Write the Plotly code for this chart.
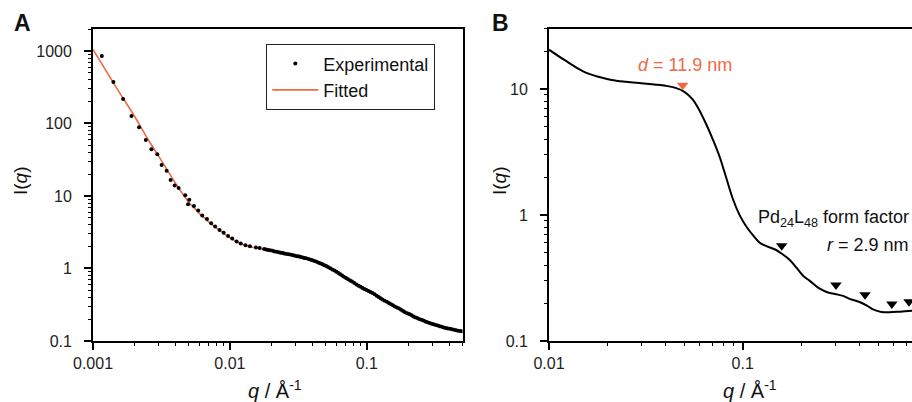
import numpy as np
import plotly.graph_objects as go

# ---------------- Panel A data ----------------
exp_q = [0.00116, 0.00141, 0.00166, 0.00191, 0.00217, 0.00243, 0.00267, 0.00295, 0.00317,
         0.00345, 0.00369, 0.00395, 0.00422, 0.00472, 0.00505, 0.00495, 0.00546, 0.00587,
         0.00628, 0.0068, 0.0073, 0.0078, 0.0084, 0.009, 0.0097, 0.0104, 0.0112, 0.012,
         0.013, 0.014, 0.0155, 0.0165, 0.0178, 0.0184, 0.019, 0.0197, 0.0205, 0.0212, 0.022,
         0.0228, 0.0235, 0.0243, 0.025, 0.026, 0.027, 0.028, 0.029, 0.030, 0.031, 0.032,
         0.033, 0.034, 0.035, 0.036, 0.0375, 0.039, 0.04, 0.0415, 0.043, 0.0445, 0.046,
         0.0475, 0.049, 0.0505, 0.052, 0.054, 0.056, 0.058, 0.06, 0.062, 0.064, 0.066,
         0.068, 0.0705, 0.073, 0.0755, 0.078, 0.081, 0.084, 0.087, 0.09, 0.093, 0.096,
         0.0995, 0.103, 0.1065, 0.11, 0.114, 0.118, 0.122, 0.126, 0.13, 0.135, 0.14,
         0.145, 0.15, 0.155, 0.16, 0.166, 0.172, 0.178, 0.184, 0.19, 0.197, 0.204, 0.211,
         0.218, 0.225, 0.233, 0.241, 0.25, 0.259, 0.268, 0.277, 0.287, 0.297, 0.307,
         0.318, 0.33, 0.341, 0.353, 0.365, 0.378, 0.391, 0.405, 0.419, 0.434, 0.449,
         0.465, 0.481, 0.497]
exp_I = [853, 374, 218, 127, 88.6, 59, 44, 37.6, 26.8,
         22.3, 16.6, 13.9, 12.9, 10.2, 8.9, 7.7, 7.3, 6.3,
         5.4, 4.8, 4.2, 3.8, 3.4, 3.1, 2.8, 2.6, 2.35, 2.22,
         2.1, 2.02, 1.95, 1.92, 1.86, 1.83, 1.8, 1.78, 1.75, 1.72, 1.7,
         1.67, 1.65, 1.63, 1.61, 1.59, 1.57, 1.545, 1.52, 1.5, 1.48, 1.46,
         1.44, 1.42, 1.4, 1.38, 1.35, 1.32, 1.3, 1.27, 1.24, 1.2, 1.17,
         1.14, 1.11, 1.08, 1.05, 1.01, 0.97, 0.935, 0.9, 0.865, 0.83, 0.8,
         0.77, 0.74, 0.71, 0.685, 0.66, 0.63, 0.6, 0.58, 0.56, 0.54, 0.52,
         0.505, 0.49, 0.475, 0.46, 0.44, 0.42, 0.405, 0.39, 0.375, 0.36, 0.347,
         0.335, 0.322, 0.31, 0.3, 0.29, 0.28, 0.27, 0.26, 0.25, 0.242, 0.235, 0.228,
         0.22, 0.213, 0.207, 0.201, 0.196, 0.191, 0.186, 0.181, 0.177, 0.173, 0.17,
         0.166, 0.163, 0.16, 0.157, 0.154, 0.151, 0.149, 0.147, 0.145, 0.143, 0.141,
         0.139, 0.137, 0.136]

fit_q = [0.001, 0.0012, 0.0015, 0.002, 0.0025, 0.003, 0.0035, 0.004, 0.0045, 0.005, 0.0055,
         0.006, 0.007, 0.008, 0.009, 0.01, 0.012, 0.014, 0.017, 0.02, 0.025, 0.03, 0.04,
         0.05, 0.06, 0.07, 0.08, 0.09, 0.1, 0.12, 0.15, 0.2, 0.25, 0.3, 0.35, 0.4, 0.45, 0.5]
fit_I = [1050, 600, 300, 128, 62, 36, 22.5, 15, 10.8, 8.2, 6.8,
         5.7, 4.4, 3.6, 3.05, 2.65, 2.2, 2.0, 1.86, 1.75, 1.6, 1.48, 1.29,
         1.08, 0.89, 0.75, 0.64, 0.56, 0.5, 0.41, 0.32, 0.24, 0.198, 0.173, 0.158, 0.148, 0.141, 0.136]

# ---------------- Panel B data ----------------
ff_q = [0.01, 0.012, 0.015, 0.018, 0.021, 0.025, 0.03, 0.035, 0.04, 0.045, 0.05, 0.055,
        0.06, 0.065, 0.07, 0.076, 0.082, 0.089, 0.097, 0.105, 0.114, 0.123, 0.135, 0.148,
        0.16, 0.175, 0.19, 0.205, 0.222, 0.245, 0.271, 0.3, 0.33, 0.36, 0.404, 0.44, 0.471,
        0.52, 0.575, 0.65, 0.75]
ff_I = [20.5, 17, 13.8, 12.5, 11.8, 11.4, 11.1, 10.85, 10.6, 10.2, 9.5, 8.3,
        6.7, 5.2, 4.0, 2.9, 2.0, 1.34, 0.98, 0.8, 0.68, 0.6, 0.56, 0.53,
        0.49, 0.44, 0.38, 0.33, 0.3, 0.265, 0.245, 0.236, 0.228, 0.215, 0.203, 0.19, 0.178,
        0.17, 0.169, 0.171, 0.174]
peak_q = [0.049]
peak_I = [10.7]
min_q = [0.159, 0.303, 0.428, 0.589, 0.722]
min_I = [0.57, 0.278, 0.233, 0.197, 0.205]

ORANGE = "#EF6A43"
FONT = "Liberation Sans, Arial, sans-serif"
W, H = 912, 402


def px(x):
    return x / W


def py(y):
    return 1 - y / H


fig = go.Figure()
fig.add_trace(go.Scatter(x=fit_q, y=fit_I, mode="lines", name="Fitted", line=dict(color=ORANGE, width=1.6, shape="spline"),
                         xaxis="x", yaxis="y", legendrank=2))
fig.add_trace(go.Scatter(x=exp_q, y=exp_I, mode="markers", name="Experimental",
                         marker=dict(color="black", size=4), xaxis="x", yaxis="y", legendrank=1))
fig.add_trace(go.Scatter(x=ff_q, y=ff_I, mode="lines", line=dict(color="black", width=2, shape="spline"),
                         xaxis="x2", yaxis="y2", showlegend=False))
fig.add_trace(go.Scatter(x=peak_q, y=peak_I, mode="markers", marker=dict(symbol="triangle-down", color=ORANGE, size=10),
                         xaxis="x2", yaxis="y2", showlegend=False))
fig.add_trace(go.Scatter(x=min_q, y=min_I, mode="markers", marker=dict(symbol="triangle-down", color="black", size=10),
                         xaxis="x2", yaxis="y2", showlegend=False))


def minors(lo, hi):
    out = []
    for e in range(lo, hi + 1):
        for m in range(2, 10):
            out.append(m * 10.0 ** e)
    return out


axis_common = dict(type="log", showgrid=False, zeroline=False, linecolor="black", linewidth=1.8,
                   automargin=False,
                   ticks="outside", ticklen=7, tickwidth=1.5, tickcolor="black",
                   tickfont=dict(family=FONT, size=16, color="#222"))
minor_style = dict(ticks="outside", ticklen=3.5, tickwidth=1.2, tickcolor="black")

fig.update_layout(
    template="none",
    width=W, height=H, margin=dict(l=0, r=0, t=0, b=0, pad=0),
    plot_bgcolor="white", paper_bgcolor="white",
    font=dict(family=FONT, color="black"),
    xaxis=dict(**axis_common, domain=[px(93), px(462.5)], range=[-3, np.log10(0.5)], anchor="y", mirror=True,
               tickvals=[0.001, 0.01, 0.1], ticktext=["0.001", "0.01", "0.1"],
               minor=dict(tickvals=minors(-3, -1), **minor_style)),
    yaxis=dict(**axis_common, domain=[py(341), py(28.5)], range=[-1, 3.31], anchor="x", mirror=True,
               ticklabelstandoff=9,
               tickvals=[0.1, 1, 10, 100, 1000], ticktext=["0.1", "1", "10", "100", "1000"],
               minor=dict(tickvals=minors(-1, 3), **minor_style)),
    xaxis2=dict(**axis_common, domain=[px(549), 1.0], range=[-2, -2 + (912 - 549) / 193.7], anchor="y2", mirror=True,
                tickvals=[0.01, 0.1], ticktext=["0.01", "0.1"],
                minor=dict(tickvals=minors(-2, -1), **minor_style)),
    yaxis2=dict(**axis_common, domain=[py(341), py(28.5)], range=[-1, 1.48], anchor="x2", mirror=False,
                ticklabelstandoff=9,
                tickvals=[0.1, 1, 10], ticktext=["0.1", "1", "10"],
                minor=dict(tickvals=minors(-1, 1), **minor_style)),
    legend=dict(x=px(266), y=py(44), xanchor="left", yanchor="top", bordercolor="#222", borderwidth=1.3,
                bgcolor="white", font=dict(family=FONT, size=18, color="#111"), tracegroupgap=0,
                itemwidth=46),
)

annots = [
    dict(x=px(22), y=py(23), text="<b>A</b>", font=dict(size=23)),
    dict(x=px(500), y=py(23), text="<b>B</b>", font=dict(size=23)),
    dict(x=px(20), y=py(181), text="I(<i>q</i>)", textangle=-90, font=dict(size=19)),
    dict(x=px(499), y=py(181), text="I(<i>q</i>)", textangle=-90, font=dict(size=19)),
    dict(x=px(275), y=py(389), text="<i>q</i> / Å<sup>-1</sup>", font=dict(size=20)),
    dict(x=px(750), y=py(389), text="<i>q</i> / Å<sup>-1</sup>", font=dict(size=20)),
    dict(x=px(685), y=py(65), text="<i>d</i> = 11.9 nm", font=dict(size=18, color=ORANGE)),
    dict(x=px(911), y=py(218), text="Pd<sub>24</sub>L<sub>48</sub> form factor", xanchor="right", font=dict(size=18)),
    dict(x=px(911), y=py(245), text="<i>r</i> = 2.9 nm", xanchor="right", font=dict(size=18)),
]
for a in annots:
    a.setdefault("xanchor", "center")
    a.update(xref="paper", yref="paper", yanchor="middle", showarrow=False)
    a["font"] = dict(family=FONT, color=a["font"].get("color", "#111"), size=a["font"]["size"])
    fig.add_annotation(**a)

fig.write_html("out.html")
